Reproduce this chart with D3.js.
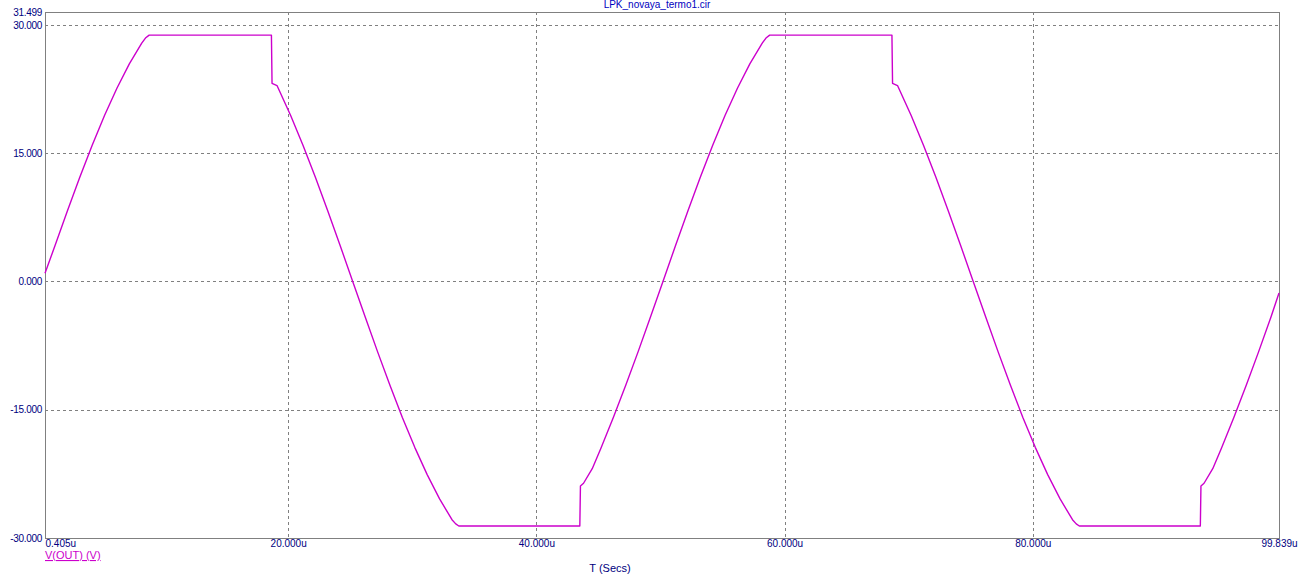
<!DOCTYPE html>
<html>
<head>
<meta charset="utf-8">
<script src="https://cdn.jsdelivr.net/npm/d3@7/dist/d3.min.js"></script>
<style>
  html, body { margin: 0; padding: 0; background: #ffffff; }
  svg { display: block; }
  text { font-family: "Liberation Sans", Arial, sans-serif; }
</style>
</head>
<body>
<svg id="chart" width="1303" height="580"></svg>
<script>
// ---- data ----
const chartTitle = "LPK_novaya_termo1.cir";
const xAxisTitle = "T (Secs)";
const seriesName = "V(OUT) (V)";

const xTicks = [0.405, 20, 40, 60, 80, 99.839];
const xTickLabels = ["0.405u", "20.000u", "40.000u", "60.000u", "80.000u", "99.839u"];
const yTicks = [-30, -15, 0, 15, 30, 31.499];
const yTickLabels = ["-30.000", "-15.000", "0.000", "15.000", "30.000", "31.499"];
const xGrid = [20, 40, 60, 80];
const yGrid = [-15, 0, 15, 30];

// time in microseconds
const timeUs = [
  0.405, 1.2, 2.2, 3.2, 4.2, 5.2, 6.2, 7.2, 8.2, 8.5, 8.8,
  18.65, 18.7, 19.1, 20.2, 21.2, 22.2, 23.2, 24.2, 25.2,
  26.2, 27.2, 28.2, 29.2, 30.2, 31.2, 32.2, 33.2, 33.5, 33.75,
  43.5, 43.55, 43.8, 44.5, 45.2, 46.2, 47.2, 48.2, 49.2, 50.2,
  51.2, 52.2, 53.2, 54.2, 55.2, 56.2, 57.2, 58.2, 58.5, 58.8,
  68.65, 68.7, 69.1, 70.2, 71.2, 72.2, 73.2, 74.2, 75.2,
  76.2, 77.2, 78.2, 79.2, 80.2, 81.2, 82.2, 83.2, 83.5, 83.75,
  93.5, 93.55, 93.8, 94.5, 95.2, 96.2, 97.2, 98.2, 99.2, 99.839
];
// V(OUT) in volts
const vOut = [
  0.95, 4.14, 8.21, 12.15, 15.9, 19.4, 22.59, 25.43, 27.86, 28.45, 28.8,
  28.8, 23.16, 22.9, 19.4, 15.9, 12.15, 8.21, 4.14, 0,
  -4.14, -8.21, -12.15, -15.9, -19.4, -22.59, -25.43, -27.86, -28.35, -28.6,
  -28.6, -23.92, -23.6, -21.9, -19.5, -15.9, -12.15, -8.21, -4.14, 0,
  4.14, 8.21, 12.15, 15.9, 19.4, 22.59, 25.43, 27.86, 28.45, 28.8,
  28.8, 23.16, 22.9, 19.4, 15.9, 12.15, 8.21, 4.14, 0,
  -4.14, -8.21, -12.15, -15.9, -19.4, -22.59, -25.43, -27.86, -28.35, -28.6,
  -28.6, -23.92, -23.6, -21.9, -19.5, -15.9, -12.15, -8.21, -4.14, -1.36
];

// ---- drawing ----
const svg = d3.select("#chart");
const plotL = 45, plotR = 1279, plotT = 12, plotB = 538;
const axisColor = "#808080";
const labelColor = "#000080";
const traceColor = "#cc00cc";

const x = d3.scaleLinear().domain([0.405, 99.839]).range([plotL, plotR]);
const y = d3.scaleLinear().domain([-30, 31.499]).range([plotB, plotT]);

// grid
svg.append("g").selectAll("line").data(xGrid).join("line")
  .attr("x1", d => Math.round(x(d)) + 0.5).attr("x2", d => Math.round(x(d)) + 0.5)
  .attr("y1", plotT).attr("y2", plotB)
  .attr("stroke", axisColor).attr("stroke-width", 1).attr("stroke-dasharray", "3,3");
svg.append("g").selectAll("line").data(yGrid).join("line")
  .attr("y1", d => Math.round(y(d)) + 0.5).attr("y2", d => Math.round(y(d)) + 0.5)
  .attr("x1", plotL).attr("x2", plotR)
  .attr("stroke", axisColor).attr("stroke-width", 1).attr("stroke-dasharray", "3,3");

// frame
svg.append("rect")
  .attr("x", plotL + 0.5).attr("y", plotT + 0.5)
  .attr("width", plotR - plotL).attr("height", plotB - plotT)
  .attr("fill", "none").attr("stroke", axisColor).attr("stroke-width", 1);

// trace
const pts = timeUs.map((t, i) => [t, vOut[i]]);
const line = d3.line().x(d => x(d[0])).y(d => y(d[1]));
svg.append("path").datum(pts)
  .attr("d", line)
  .attr("fill", "none")
  .attr("stroke", traceColor)
  .attr("stroke-width", 1.4)
  .attr("stroke-linejoin", "round");

// y axis labels
const yAxis = d3.axisLeft(y).tickValues(yTicks)
  .tickFormat((d, i) => yTickLabels[i]).tickSize(0).tickPadding(3);
const gy = svg.append("g").attr("transform", `translate(${plotL},0)`).call(yAxis);
gy.select(".domain").remove();
gy.selectAll("text").attr("fill", labelColor).style("font-size", "10px")
  .attr("letter-spacing", "-0.3");

// x axis labels
const xAxis = d3.axisBottom(x).tickValues(xTicks)
  .tickFormat((d, i) => xTickLabels[i]).tickSize(0).tickPadding(2);
const gx = svg.append("g").attr("transform", `translate(0,${plotB})`).call(xAxis);
gx.select(".domain").remove();
gx.selectAll("text").attr("fill", labelColor).style("font-size", "10px")
  .attr("text-anchor", (d, i) => i === 0 ? "start" : "middle");

// title
svg.append("text").attr("x", 657).attr("y", 8).attr("text-anchor", "middle")
  .attr("fill", "#0000c0").style("font-size", "10px").text(chartTitle);

// x axis title
svg.append("text").attr("x", 610).attr("y", 572).attr("text-anchor", "middle")
  .attr("fill", labelColor).style("font-size", "11px").text(xAxisTitle);

// legend
svg.append("text").attr("x", plotL).attr("y", 559).attr("text-anchor", "start")
  .attr("fill", traceColor).style("font-size", "11px")
  .style("text-decoration", "underline").text(seriesName);
</script>
</body>
</html>
